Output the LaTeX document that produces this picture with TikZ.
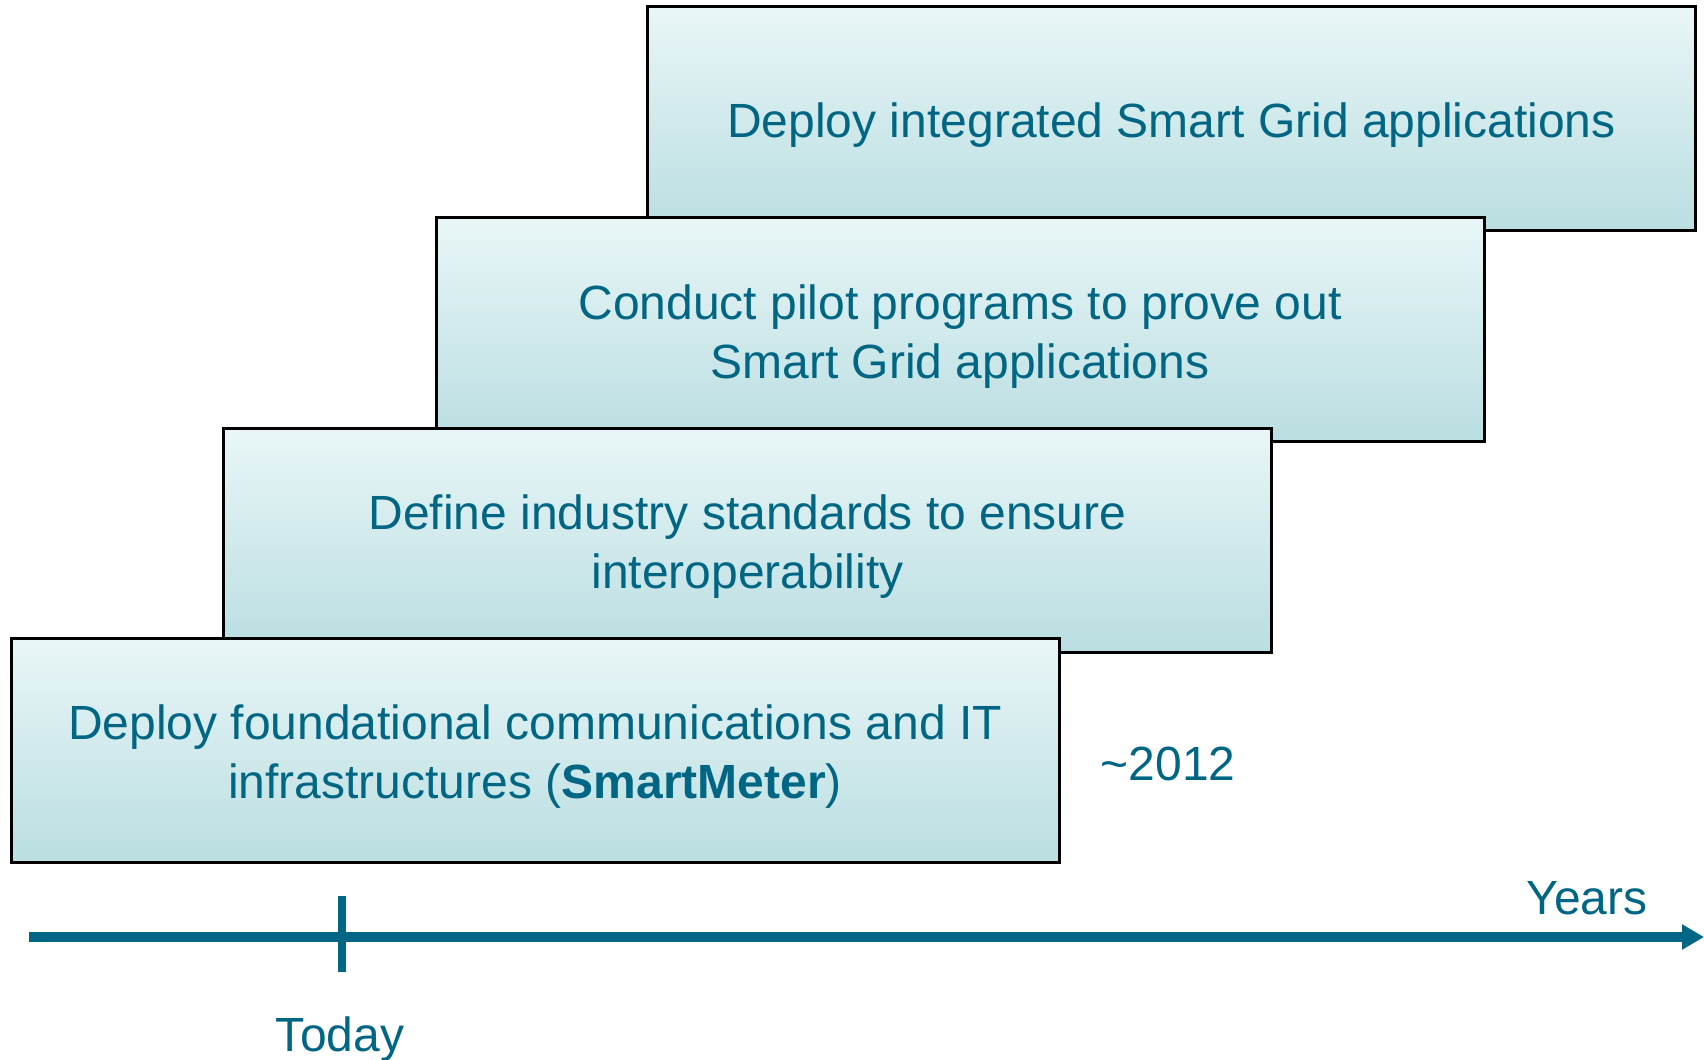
\documentclass[tikz,border=0pt]{standalone}
\usepackage{fontspec}
\setmainfont{Liberation Sans}
\usepackage{xcolor}
\usepackage{tikz}
\usetikzlibrary{arrows.meta,positioning}

\definecolor{teal}{HTML}{006684}
\definecolor{boxtop}{HTML}{E9F6F7}
\definecolor{boxbot}{HTML}{BADEE1}

\tikzset{
  stage/.style={draw=black,line width=1.5pt,top color=boxtop,bottom color=boxbot,
    minimum width=524pt,minimum height=112pt},
  lbl/.style={text=teal,font=\fontsize{24}{29.5}\selectfont,inner sep=0pt,align=center}
}

\begin{document}
\begin{tikzpicture}[x=0.5pt,y=-0.5pt]
        \useasboundingbox (0,0) rectangle (1704,1060);
        % stairs, back to front
        \node[stage] (apps) at (1171.5,118.5) {};
        \node[lbl,below=3.4pt of apps.center,anchor=center] (appsT) {Deploy integrated Smart Grid applications};
        \node[stage] (pilot) at (960,329.5) {};
        \node[lbl,below=3.4pt of pilot.center,anchor=center] (pilotT) {Conduct pilot programs to prove out\\Smart Grid applications};
        \node[stage] (std) at (747.5,540) {};
        \node[lbl,below=3.4pt of std.center,anchor=center] (stdT) {Define industry standards to ensure\\interoperability};
        \node[stage] (infra) at (535,750) {};
        \node[lbl,below=3.4pt of infra.center,anchor=center] (infraT) {Deploy foundational communications and IT\\infrastructures (\textbf{SmartMeter})};
        \node[lbl] (year) at (1168,764) {\textasciitilde2012};
        % time axis
        \coordinate (start) at (29,937);
        \coordinate (end) at (1704,937);
        \coordinate (tt) at (342,896);
        \coordinate (tb) at (342,972);
        \draw[teal,line width=5pt,-{Triangle[length=11pt,width=12pt]}] (start) -- (end);
        \draw[teal,line width=4pt] (tt) -- (tb);
        \node[lbl] (today) at (340,1039) {Today};
        \node[lbl] (years) at (1587,898) {Years};
\end{tikzpicture}
\end{document}
